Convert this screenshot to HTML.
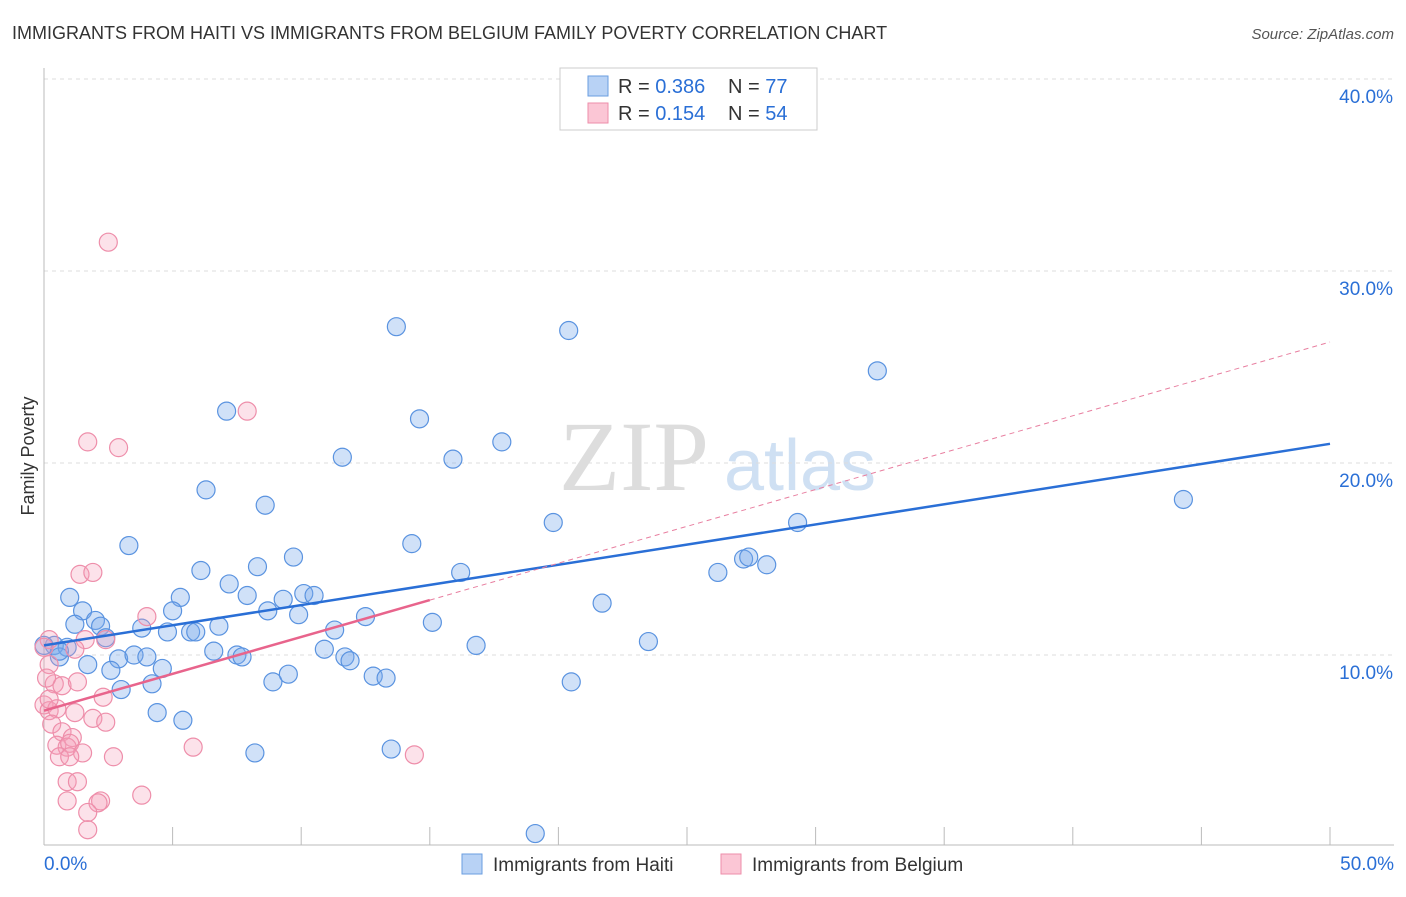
<!DOCTYPE html>
<html><head><meta charset="utf-8"><style>
body{margin:0;background:#fff;font-family:"Liberation Sans",sans-serif}
</style></head><body>
<svg id="chart" width="1406" height="892" xmlns="http://www.w3.org/2000/svg" style="font-family:'Liberation Sans',sans-serif">
<text x="12" y="39" font-size="18" fill="#333">IMMIGRANTS FROM HAITI VS IMMIGRANTS FROM BELGIUM FAMILY POVERTY CORRELATION CHART</text>
<text x="1394" y="39" font-size="15" fill="#555" text-anchor="end" font-style="italic">Source: ZipAtlas.com</text>
<text transform="translate(34,456) rotate(-90)" font-size="18" fill="#333" text-anchor="middle">Family Poverty</text>
<text x="634" y="490" font-size="100" fill="#ddd" font-family="Liberation Serif,serif" text-anchor="middle">ZIP</text>
<text x="800" y="490" font-size="72" fill="#cfe0f3" text-anchor="middle">atlas</text>
<g id="grid"></g><g id="axes"></g><g id="pts"></g><g id="lines"></g>
<g>
<rect x="560" y="68" width="257" height="62" fill="#fff" stroke="#ccc"/>
<rect x="588" y="76" width="20" height="20" fill="#b8d2f5" stroke="#6a9ee0"/>
<rect x="588" y="103" width="20" height="20" fill="#fbc6d5" stroke="#ee8eaa"/>
<text x="618" y="93" font-size="20" fill="#333">R = <tspan fill="#2a6fd6">0.386</tspan><tspan x="728">N = </tspan><tspan fill="#2a6fd6">77</tspan></text>
<text x="618" y="120" font-size="20" fill="#333">R = <tspan fill="#2a6fd6"> 0.154</tspan><tspan x="728">N = </tspan><tspan fill="#2a6fd6">54</tspan></text>
</g>
<g>
<rect x="462" y="854" width="20" height="20" fill="#b8d2f5" stroke="#6a9ee0"/>
<text x="493" y="871" font-size="19" fill="#333">Immigrants from Haiti</text>
<rect x="721" y="854" width="20" height="20" fill="#fbc6d5" stroke="#ee8eaa"/>
<text x="752" y="871" font-size="19" fill="#333">Immigrants from Belgium</text>
</g>
</svg>
<script>
const yTicks=[10,20,30,40];
const xTickLabels=["0.0%","50.0%"];
const haitiX=[13.7,20.4,32.4,7.1,14.6,11.6,15.9,17.8,6.3,8.6,44.3,19.8,29.3,3.3,14.3,9.7,6.1,8.3,7.2,16.2,26.2,27.2,27.4,28.1,1.0,5.3,7.9,10.1,10.5,9.3,1.5,5.0,8.7,9.9,12.5,21.7,2.0,1.2,2.2,3.8,4.8,5.7,5.9,6.8,11.3,15.1,2.4,23.5,16.8,0.4,0.9,0.0,0.6,2.9,3.5,4.0,6.6,7.5,7.7,10.9,11.7,11.9,1.7,2.6,4.6,3.0,4.2,8.9,9.5,12.8,13.3,20.5,4.4,5.4,8.2,13.5,19.1,0.6];
const haitiY=[27.1,26.9,24.8,22.7,22.3,20.3,20.2,21.1,18.6,17.8,18.1,16.9,16.9,15.7,15.8,15.1,14.4,14.6,13.7,14.3,14.3,15.0,15.1,14.7,13.0,13.0,13.1,13.2,13.1,12.9,12.3,12.3,12.3,12.1,12.0,12.7,11.8,11.6,11.5,11.4,11.2,11.2,11.2,11.5,11.3,11.7,10.9,10.7,10.5,10.5,10.4,10.5,9.9,9.8,10.0,9.9,10.2,10.0,9.9,10.3,9.9,9.7,9.5,9.2,9.3,8.2,8.5,8.6,9.0,8.9,8.8,8.6,7.0,6.6,4.9,5.1,0.7,10.2];
const belgiumX=[2.5,7.9,1.7,2.9,1.4,1.9,4.0,1.6,2.4,1.2,0.2,0.0,0.2,0.4,0.7,1.3,2.3,0.0,0.2,0.5,1.2,1.9,2.4,0.3,0.7,1.1,0.5,0.9,1.0,1.5,0.6,1.0,5.8,2.7,14.4,0.9,1.3,0.9,2.2,2.1,3.8,1.7,1.7,0.2,0.1];
const belgiumY=[31.5,22.7,21.1,20.8,14.2,14.3,12.0,10.8,10.8,10.3,10.8,10.4,9.5,8.5,8.4,8.6,7.8,7.4,7.1,7.2,7.0,6.7,6.5,6.4,6.0,5.7,5.3,5.2,5.4,4.9,4.7,4.7,5.2,4.7,4.8,3.4,3.4,2.4,2.4,2.3,2.7,1.8,0.9,7.7,8.8];
const haitiTrend=[10.5,21.0];
const belgiumTrend=[7.1,26.3];
const belgiumSolidEnd=15;
const NS="http://www.w3.org/2000/svg";
const X=v=>44+v/50*1286, Y=v=>847-v*19.2;
function mk(t,a,p){const e=document.createElementNS(NS,t);for(const k in a)e.setAttribute(k,a[k]);p.appendChild(e);return e;}
const grid=document.getElementById('grid'),axes=document.getElementById('axes'),pts=document.getElementById('pts'),lines=document.getElementById('lines');
yTicks.forEach(t=>{
 const l=mk('line',{x1:44,x2:1394,y1:Y(t),y2:Y(t),stroke:'#ddd','stroke-dasharray':'4,4'},grid);
 
 
 const tx=mk('text',{x:1393,y:Y(t)+24,'font-size':19,fill:'#2a6fd6','text-anchor':'end'},grid);
 tx.textContent=t.toFixed(1)+'%';
 
 
});
const ax=mk('line',{x1:44,x2:1394,y1:845,y2:845,stroke:'#bbb'},axes);


const ay=mk('line',{x1:44,x2:44,y1:68,y2:845,stroke:'#bbb'},axes);


for(let i=1;i<=10;i++){const t=mk('line',{x1:X(i*5),x2:X(i*5),y1:827,y2:845,stroke:'#bbb'},axes);
 
 }
[[0,'start',44],[50,'end',1394]].forEach((d,i)=>{const t=mk('text',{x:d[2],y:870,'font-size':19,fill:'#2a6fd6','text-anchor':d[1]},axes);t.textContent=xTickLabels[i];
 
 });
haitiX.forEach((v,i)=>{const c=mk('circle',{cx:X(v),cy:Y(haitiY[i]),r:9,fill:'rgba(120,170,235,0.35)',stroke:'#5a93e0','stroke-width':1.2},pts);
 
 });
belgiumX.forEach((v,i)=>{const c=mk('circle',{cx:X(v),cy:Y(belgiumY[i]),r:9,fill:'rgba(245,160,185,0.3)',stroke:'#ee8eaa','stroke-width':1.2},pts);
 
 });
const bl=mk('line',{x1:X(0),y1:Y(haitiTrend[0]),x2:X(50),y2:Y(haitiTrend[1]),stroke:'#2a6fd6','stroke-width':2.5},lines);


const pv=x=>belgiumTrend[0]+(belgiumTrend[1]-belgiumTrend[0])*x/50;
const pd=mk('line',{x1:X(belgiumSolidEnd),y1:Y(pv(belgiumSolidEnd)),x2:X(50),y2:Y(pv(50)),stroke:'#e87fa0','stroke-width':1,'stroke-dasharray':'5,4'},lines);


const ps=mk('line',{x1:X(0),y1:Y(pv(0)),x2:X(belgiumSolidEnd),y2:Y(pv(belgiumSolidEnd)),stroke:'#e8648c','stroke-width':2.5},lines);


</script>
</body></html>
